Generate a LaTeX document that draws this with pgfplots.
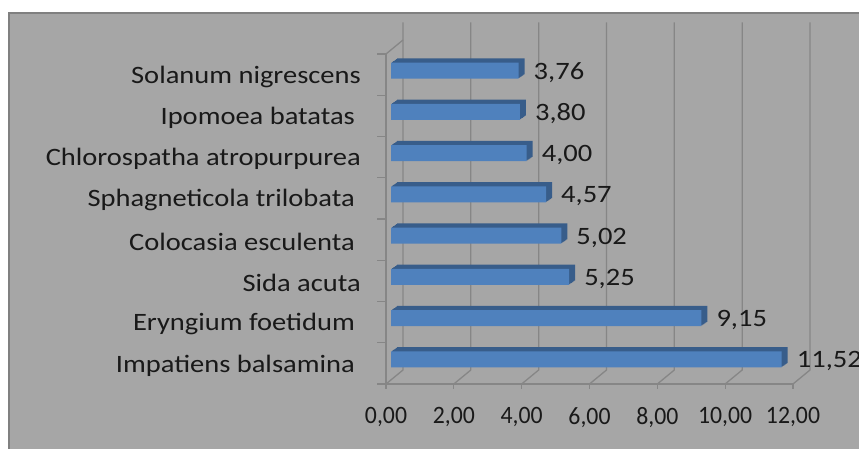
\documentclass[border=0pt]{standalone}
\usepackage{fontspec}
\setmainfont{Carlito}[FakeStretch=1.14]
\newfontfamily\tickfont{Carlito}[FakeStretch=0.95]
\usepackage{pgfplots}
\usepackage{pgfplotstable}
\pgfplotsset{compat=1.18}

\definecolor{chartbg}{RGB}{166,166,166}
\definecolor{gridgray}{RGB}{134,134,134}
\definecolor{framegray}{RGB}{128,128,128}
\definecolor{barface}{RGB}{79,129,189}
\definecolor{barside}{RGB}{56,93,138}
\definecolor{txt}{RGB}{25,25,25}

% value, category index (0 = bottom)
\pgfplotstableread{
v i
11.52 0
9.15 1
5.25 2
5.02 3
4.57 4
4.00 5
3.80 6
3.76 7
}\heights

\newcommand{\lbl}{\fontsize{25}{30}\selectfont}

\begin{document}
\lbl
\begin{tikzpicture}[x=1pt,y=1pt]
\fill[white] (0,0) rectangle (859,449);
\fill[chartbg] (9,-5) rectangle (870,436);
\draw[framegray, line width=2pt] (9,-5) -- (9,436) -- (870,436);

\begin{axis}[
    at={(386pt,65pt)}, anchor=south west,
    width=407pt, height=330pt, scale only axis,
    xmin=0, xmax=12, ymin=-0.5, ymax=7.5,
    axis lines*=left,
    axis line style={gridgray, line width=1.3pt},
    tick align=outside,
    tick style={gridgray, line width=1.3pt},
    major tick length=5pt,
    minor tick length=9pt,
    xtick={0,2,...,12},
    ytick={0,...,7},
    minor ytick={-0.5,0.5,...,7.5},
    major y tick style={draw=none},
    yticklabels={Impatiens balsamina\kern6pt,
                 Eryngium foetidum\kern6pt,
                 Sida acuta,
                 Colocasia esculenta\kern6pt,
                 Sphagneticola trilobata\kern6pt,
                 Chlorospatha atropurpurea,
                 Ipomoea batatas\kern6pt,
                 Solanum nigrescens},
    xticklabel={\pgfmathprintnumber[fixed,fixed zerofill,precision=2,use comma,assume math mode=true]{\tick}},
    xticklabel style={font=\lbl\tickfont, text=txt, inner sep=0pt, anchor=north, yshift=-18pt},
    yticklabel style={font=\lbl, text=txt, inner sep=0pt, anchor=east, xshift=-20pt, yshift=-2pt},
    clip=false,
]
% back wall grid and floor
\pgfplotsinvokeforeach{0,2,...,12}{
    \draw[gridgray, line width=1.3pt] (axis cs:#1,-0.5) -- ++(17pt,14pt) -- ++(0,327pt);
}
\draw[gridgray, line width=1.3pt] (axis cs:0,7.5) -- ++(17pt,14pt);

% depth of the bars
\pgfplotsinvokeforeach{6,5,4,3,2,1}{
    \addplot[xbar, bar width=16pt, bar shift=0pt, fill=barside, draw=none,
        xshift=5pt+#1pt, yshift=4pt+0.7*#1pt] table[x=v, y=i] {\heights};
}
% front faces
\addplot[xbar, bar width=16pt, bar shift=0pt, fill=barface, draw=none,
    xshift=5pt, yshift=4pt,
    point meta=x,
    nodes near coords={\pgfmathprintnumber[fixed,fixed zerofill,precision=2,use comma,assume math mode=true]{\pgfplotspointmeta}},
    every node near coord/.append style={font=\lbl, text=txt, anchor=west, inner sep=0pt, xshift=15pt, yshift=-2pt}]
    table[x=v, y=i] {\heights};
\end{axis}
\pgfresetboundingbox
\path[use as bounding box] (0,0) rectangle (859,449);
\end{tikzpicture}
\end{document}
